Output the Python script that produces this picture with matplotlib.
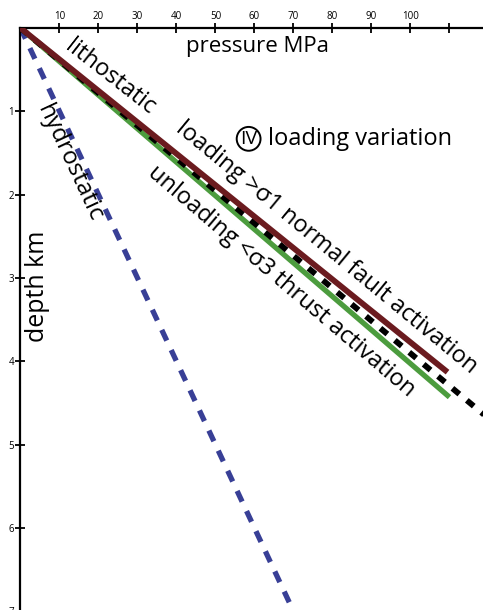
import matplotlib
matplotlib.use("Agg")
import matplotlib.pyplot as plt
import numpy as np

plt.rcParams['font.family'] = ['Open Sans', 'DejaVu Sans']
plt.rcParams['lines.scale_dashes'] = False

# pressure (MPa) and depth (km) end points of each gradient line
hydro_p = [0, 70]
hydro_z = [0, 7]
litho_p = [0, 125]
litho_z = [0, 4.88]
load_p = [0, 109.5]
load_z = [0, 4.13]
unload_p = [0, 110]
unload_z = [0, 4.43]

xticks = [10, 20, 30, 40, 50, 60, 70, 80, 90, 100, 110]
xlabels = ['10', '20', '30', '40', '50', '60', '70', '80', '90', '100', '']
yticks = [1, 2, 3, 4, 5, 6, 7]

fig = plt.figure(figsize=(4.83, 6.10), dpi=100)
ax = fig.add_axes([0.0424, -0.0295, 0.977, 0.9836])
ax.set_xlim(0, 121)
ax.set_ylim(7.2, 0)

ax.plot(hydro_p, hydro_z, color='#383f96', lw=3.8, dashes=(8.5, 7.5), solid_capstyle='butt')
ax.plot(unload_p, unload_z, color='#4c9c3e', lw=3.8, solid_capstyle='butt')
ax.plot(litho_p, litho_z, color='black', lw=4.2, dashes=(6.5, 7.0), zorder=3)
ax.plot(load_p, load_z, color='#6b1b1f', lw=4.2, solid_capstyle='butt', zorder=4)

for s in ['right', 'bottom']:
    ax.spines[s].set_visible(False)
for s in ['top', 'left']:
    ax.spines[s].set_linewidth(1.6)

ax.xaxis.tick_top()
ax.set_xticks(xticks)
ax.set_xticklabels(xlabels)
ax.set_yticks(yticks)
ax.tick_params(direction='inout', length=7, width=1.3, labelsize=7, pad=1)

ax.text(60.7, 0.22, 'pressure MPa', fontsize=16, ha='center', va='center')
ax.text(4.3, 3.1, 'depth km', fontsize=18, ha='center', va='center', rotation=90)

ax.text(23.0, 0.59, 'lithostatic', fontsize=17, ha='center', va='center',
        rotation=-38, rotation_mode='anchor')
ax.text(12.7, 1.63, 'hydrostatic', fontsize=17.5, ha='center', va='center',
        rotation=-65, rotation_mode='anchor')
ax.text(78.5, 2.63, 'loading >σ1 normal fault activation', fontsize=17,
        ha='center', va='center', rotation=-39.5, rotation_mode='anchor')
ax.text(67.0, 3.04, 'unloading <σ3 thrust activation', fontsize=17,
        ha='center', va='center', rotation=-40.5, rotation_mode='anchor')

ax.text(58.5, 1.33, 'IV', fontsize=14, ha='center', va='center',
        bbox=dict(boxstyle='circle,pad=0.15', fc='none', ec='black', lw=1.4))
ax.text(63.4, 1.33, 'loading variation', fontsize=17, ha='left', va='center')

fig.savefig('out.png', dpi=100)
